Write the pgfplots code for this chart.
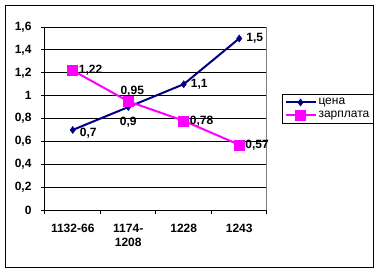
\documentclass[border=0pt]{standalone}
\usepackage{pgfplots}
\pgfplotsset{compat=1.18}
\usepackage{fontspec}
\setmainfont{Liberation Sans}
\definecolor{navyc}{RGB}{0,0,128}
\definecolor{magc}{RGB}{255,0,255}
\definecolor{grayc}{RGB}{128,128,128}
\pgfplotsset{
  lab/.style={forget plot, draw=none, mark=none, nodes near coords,
    point meta=explicit symbolic,
    every node near coord/.append style={font=\fontsize{12}{14}\selectfont\bfseries, text=black, inner sep=2pt, #1}},
  myleg/.style={legend image code/.code={\draw[##1, mark repeat=2, mark phase=2] plot coordinates {(0pt,0pt) (15pt,0pt) (30pt,0pt)};}},
}
\begin{document}
\begin{tikzpicture}[x=1pt,y=1pt]
\path (0,0) rectangle (381,274);
\draw[line width=1pt] (5.5,7) rectangle (373,268.5);
\begin{axis}[
  at={(45pt,64pt)}, anchor=south west,
  scale only axis, width=222pt, height=183pt,
  xmin=-0.5, xmax=3.5, ymin=0, ymax=1.6,
  axis x line*=bottom, axis y line*=left,
  axis line style={line width=1pt, black, -},
  xtick={-0.5,0.5,1.5,2.5,3.5}, xticklabels={},
  extra x ticks={0,1,2,3},
  extra x tick labels={{1132-66},{1174-\\1208},{1228},{1243}},
  extra x tick style={major tick length=0pt},
  ytick={0,0.2,0.4,0.6,0.8,1,1.2,1.4,1.6},
  /pgf/number format/fixed, /pgf/number format/precision=1,
  /pgf/number format/use comma, /pgf/number format/assume math mode=true,
  tick align=outside, major tick length=4pt,
  tick style={black, line width=1pt},
  ymajorgrids, grid style={black, line width=1pt},
  ticklabel style={font=\fontsize{12}{14}\selectfont\bfseries},
  xticklabel style={align=center, yshift=-11pt},
  yticklabel style={xshift=-6pt},
  clip=false,
  legend style={at={(1.0676,0.634)}, anchor=north west, draw=black, line width=1pt,
    font=\fontsize{12}{14}\selectfont, inner sep=2pt, row sep=1pt,
    /tikz/every even column/.append style={column sep=1pt}},
  legend cell align=left,
]
\addplot[navyc, line width=2pt, mark=diamond*, mark size=3.5pt,
  mark options={solid, line width=0.5pt, fill=navyc}, myleg]
  table {
x y
0 0.7
1 0.9
2 1.1
3 1.5
};
\addlegendentry{цена}
\addplot[magc, line width=2pt, mark=square*, mark size=5pt,
  mark options={solid, line width=0.5pt, fill=magc}, myleg]
  table {
x y
0 1.22
1 0.95
2 0.78
3 0.57
};
\addlegendentry{зарплата}
% data labels
\addplot[lab={anchor=west, xshift=5pt, yshift=-3pt}] table[meta=l] {
x y l
0 0.7 {0,7}
};
\addplot[lab={anchor=west, xshift=5pt, yshift=0pt}] table[meta=l] {
x y l
2 1.1 {1,1}
3 1.5 {1,5}
};
\addplot[lab={anchor=north, yshift=-8pt}] table[meta=l] {
x y l
1 0.9 {0,9}
};
\addplot[lab={anchor=west, xshift=4pt}] table[meta=l] {
x y l
0 1.22 {1,22}
2 0.78 {0,78}
3 0.57 {0,57}
};
\addplot[lab={anchor=south, xshift=4pt, yshift=3pt}] table[meta=l] {
x y l
1 0.95 {0,95}
};
\draw[grayc, line width=1pt] (rel axis cs:1,0) -- (rel axis cs:1,1);
\end{axis}
\end{tikzpicture}
\end{document}
